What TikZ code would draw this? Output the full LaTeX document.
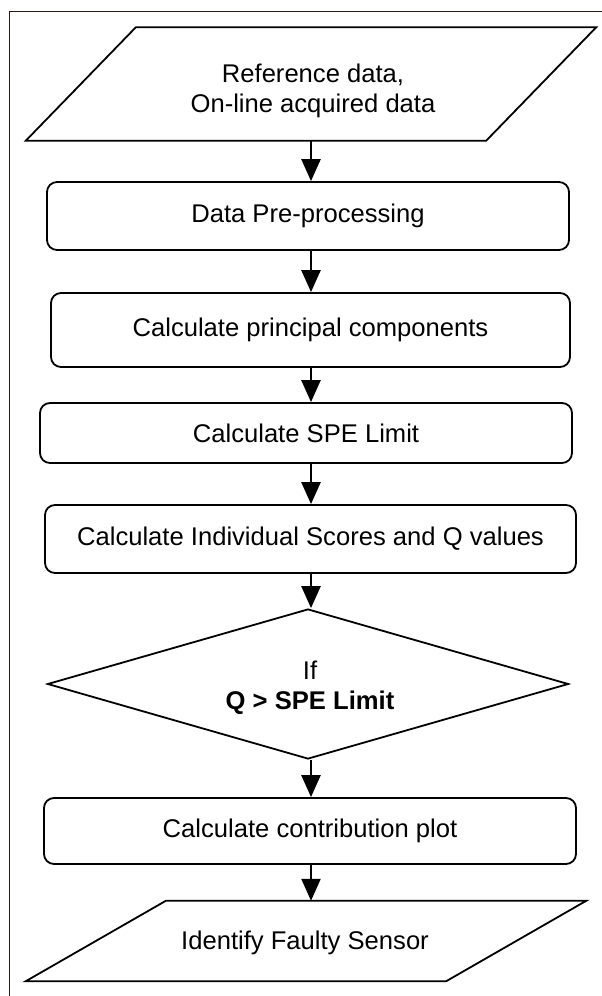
\documentclass[tikz,border=0pt]{standalone}
\usepackage{fontspec}
\setmainfont{Liberation Sans}
\usetikzlibrary{arrows.meta,calc,shapes.geometric}
\definecolor{framecol}{RGB}{45,25,25}
\begin{document}
\begin{tikzpicture}[x=1pt,y=-1pt,
  every node/.style={font=\fontsize{25.6}{30}\selectfont, align=center, inner sep=0pt},
  procbox/.style={draw, line width=1.8pt, rounded corners=10pt},
  holder/.style={draw=none},
  shapeline/.style={line width=1.8pt, line join=miter},
  flow/.style={line width=2.4pt, -{Triangle[length=22pt,width=19pt]}},
]
\useasboundingbox (0,0) rectangle (602,996);
\draw[framecol, line width=1pt] (9,996) -- (9,11) -- (602,11);
\coordinate (ax) at (311,0);

% input parallelogram
\node[holder, minimum width=460pt, minimum height=113pt] (inp) at (311,84) {};
\draw[shapeline] ($(inp.north west)+(55,0)$) -- ($(inp.north east)+(55,0)$)
  -- ($(inp.south east)+(-55,0)$) -- ($(inp.south west)+(-55,0)$) -- cycle;
\node (inptxt) at (313,91) {Reference data,\\On-line acquired data};

\node[procbox, minimum width=522pt, minimum height=68pt] (b2) at (308,216) {Data Pre-processing};
\node[procbox, minimum width=519pt, minimum height=74pt] (b3) at (310.5,330) {Calculate principal components};
\node[procbox, minimum width=532pt, minimum height=60pt] (b4) at (306,433) {Calculate SPE Limit};
\node[procbox, minimum width=531pt, minimum height=68pt] (b5) at (310.5,539) {Calculate Individual Scores and Q values};
\node[diamond, draw, line width=1.8pt, minimum width=521pt, minimum height=150pt] (dec) at (308,684) {};
\node (dectxt) at (310,688) {If\\\textbf{Q > SPE Limit}};
\node[procbox, minimum width=532pt, minimum height=66pt] (b7) at (310,831) {Calculate contribution plot};

% output parallelogram
\node[holder, minimum width=420pt, minimum height=80pt] (outp) at (306,941) {};
\draw[shapeline] ($(outp.north west)+(70,0)$) -- ($(outp.north east)+(70,0)$)
  -- ($(outp.south east)+(-70,0)$) -- ($(outp.south west)+(-70,0)$) -- cycle;
\node (outptxt) at (305,943) {Identify Faulty Sensor};

\draw[flow] (inp.south -| ax) -- (b2.north -| ax);
\draw[flow] (b2.south -| ax) -- (b3.north -| ax);
\draw[flow] (b3.south -| ax) -- (b4.north -| ax);
\draw[flow] (b4.south -| ax) -- (b5.north -| ax);
\draw[flow] (b5.south -| ax) -- (dec.north -| ax);
\draw[flow] (dec.south -| ax) -- (b7.north -| ax);
\draw[flow] (b7.south -| ax) -- (outp.north -| ax);
\end{tikzpicture}
\end{document}
